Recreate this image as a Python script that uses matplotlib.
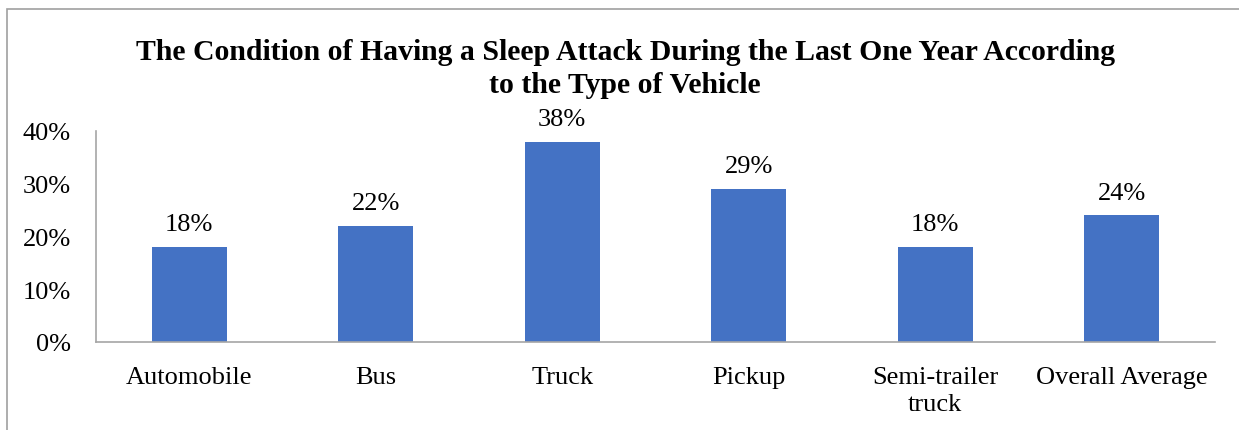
import matplotlib.pyplot as plt
from matplotlib.patches import Rectangle

# Data
categories = ["Automobile", "Bus", "Truck", "Pickup", "Semi-trailer\ntruck", "Overall Average"]
values = [18, 22, 38, 29, 18, 24]
yticks = [0, 10, 20, 30, 40]

plt.rcParams['font.family'] = ['Liberation Serif', 'DejaVu Serif']

fig = plt.figure(figsize=(12.39, 4.31), dpi=100)
ax = fig.add_axes([96 / 1239, 1 - 343 / 431, (1215 - 96) / 1239, (343 - 132) / 431])

bar_color = '#4472C4'
ax.bar(range(len(categories)), values, width=0.4, color=bar_color)
for i, v in enumerate(values):
    ax.text(i, v + 2.2, f"{v}%", ha='center', va='bottom', fontsize=19)

ax.set_xlim(-0.5, len(categories) - 0.5)
ax.set_ylim(0, 40)
ax.set_yticks(yticks)
ax.set_yticklabels([f"{t}%" for t in yticks], fontsize=19)
ax.set_xticks(range(len(categories)))
ax.set_xticklabels(categories, fontsize=19, linespacing=1.32)
ax.tick_params(axis='both', length=0)
ax.tick_params(axis='y', pad=18)
ax.tick_params(axis='x', pad=17)
for s in ['top', 'right']:
    ax.spines[s].set_visible(False)
for s in ['left', 'bottom']:
    ax.spines[s].set_color('#A6A6A6')
    ax.spines[s].set_linewidth(1.2)

fig.text(625 / 1239, 1 - 69 / 431,
         "The Condition of Having a Sleep Attack During the Last One Year According\nto the Type of Vehicle",
         ha='center', va='center', fontsize=21.4, fontweight='bold', linespacing=1.28)

# chart border (cropped at right and bottom)
fig.patches.append(Rectangle((7 / 1239, -0.1), 1.2, 1 - 10 / 431 + 0.1,
                             transform=fig.transFigure, fill=False,
                             edgecolor='#A0A0A0', linewidth=1.2))

fig.savefig("out.png", dpi=100)
